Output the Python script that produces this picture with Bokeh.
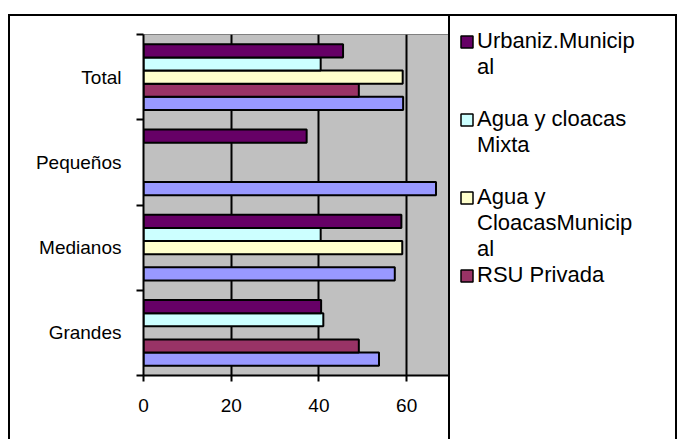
from bokeh.plotting import figure
from bokeh.layouts import row
from bokeh.models import (Range1d, FixedTicker, Legend, LegendItem)
from bokeh.embed import file_html
from bokeh.resources import INLINE

# Categories, bottom to top
categories = ["Grandes", "Medianos", "Pequeños", "Total"]

# Series values per category (None = no bar)
serie_base = [53.7, 57.3, 66.7, 59.2]
rsu_privada = [49.1, None, None, 49.1]
agua_cloacas_municipal = [None, 59.0, None, 59.1]
agua_cloacas_mixta = [41.0, 40.4, None, 40.4]
urbaniz_municipal = [40.5, 58.8, 37.2, 45.5]

x_ticks = [0, 20, 40, 60]

# (legend lines, values, colour); bars stacked bottom to top inside a group
series = [
    ([], serie_base, "#9999FF"),
    (["RSU Privada"], rsu_privada, "#993366"),
    (["Agua y", "CloacasMunicip", "al"], agua_cloacas_municipal, "#FFFFCC"),
    (["Agua y cloacas", "Mixta"], agua_cloacas_mixta, "#CCFFFF"),
    (["Urbaniz.Municip", "al"], urbaniz_municipal, "#660066"),
]

FONT = "Liberation Sans"
BOX_X, BOX_Y, BORDER = 8, 14, 2          # outer chart border
H = 439 - BOX_Y - BORDER
MAIN_W = 450 - BOX_X - BORDER            # chart part ends at the divider
LEG_W = 677 - 450 - BORDER               # legend part (after the divider)

p = figure(width=MAIN_W, height=H, output_backend="svg", toolbar_location=None,
           x_range=Range1d(0, 70), y_range=Range1d(0, len(categories)),
           min_border_left=143 - BOX_X - BORDER, min_border_right=0,
           min_border_top=34 - BOX_Y - BORDER, min_border_bottom=64,
           background_fill_color="#C0C0C0", border_fill_color="white",
           outline_line_color="#808080", outline_line_width=1,
           styles={"border-right": "2px solid black"})

# grouped horizontal bars: five slots per category plus gap
bar_h = 1 / 6.5
for k, (lines, vals, color) in enumerate(series):
    ys, xs = [], []
    for i, v in enumerate(vals):
        if v is None:
            continue
        ys.append(i + 0.5 + (k - 2) * bar_h)
        xs.append(v)
    p.hbar(y=ys, left=0, right=xs, height=bar_h, fill_color=color,
           line_color="black", line_width=2)

# x axis
p.xaxis.ticker = FixedTicker(ticks=x_ticks)
p.xaxis.axis_line_width = 2
p.xaxis.major_tick_line_width = 2
p.xaxis.major_tick_out = 6
p.xaxis.major_tick_in = 0
p.xaxis.minor_tick_line_color = None
p.xaxis.major_label_text_font = FONT
p.xaxis.major_label_text_font_size = "19px"
p.xaxis.major_label_text_color = "black"
p.xaxis.major_label_standoff = 17

# y axis: labels centred on categories, ticks on category boundaries
p.yaxis.ticker = FixedTicker(ticks=[i + 0.5 for i in range(len(categories))],
                             minor_ticks=list(range(len(categories) + 1)))
p.yaxis.major_label_overrides = {i + 0.5: c for i, c in enumerate(categories)}
p.yaxis.axis_line_width = 2
p.yaxis.major_tick_out = 0
p.yaxis.major_tick_in = 0
p.yaxis.minor_tick_out = 7
p.yaxis.minor_tick_in = 0
p.yaxis.minor_tick_line_width = 2
p.yaxis.minor_tick_line_color = "black"
p.yaxis.major_label_text_font = FONT
p.yaxis.major_label_text_font_size = "19px"
p.yaxis.major_label_text_color = "black"
p.yaxis.major_label_standoff = 15

p.xgrid.ticker = FixedTicker(ticks=x_ticks[1:])
p.xgrid.grid_line_color = "black"
p.xgrid.grid_line_width = 2
p.ygrid.visible = False

# legend panel (transparent, nudged up so the first entry sits near the top)
q = figure(width=LEG_W, height=H, output_backend="svg", toolbar_location=None,
           title=None, x_range=Range1d(0, 1), y_range=Range1d(0, 1),
           min_border=0, outline_line_color=None,
           background_fill_alpha=0, border_fill_alpha=0,
           styles={"transform": "translateY(-15px)"})
q.axis.visible = False
q.grid.visible = False

# legend proxies: one undrawn row each so the swatches get their styling
nan = float("nan")
blank = q.hbar(y=[nan], left=[0], right=[0], height=1, fill_alpha=0, line_alpha=0)
items = []
entries = [e for e in reversed(series) if e[0]]
for n, (lines, _, color) in enumerate(entries):
    swatch = q.hbar(y=[nan], left=[0], right=[0], height=1, fill_color=color,
                    line_color="black", line_width=1.5)
    for j, text in enumerate(lines):
        items.append(LegendItem(label=text, renderers=[swatch if j == 0 else blank]))
    if len(lines) < 3 and n < len(entries) - 1:
        items.append(LegendItem(label=" ", renderers=[blank]))

legend = Legend(items=items, location="top_left", margin=9,
                border_line_color=None, background_fill_alpha=0,
                label_text_font=FONT, label_text_font_size="22px",
                label_text_color="black",
                glyph_width=15, glyph_height=15, label_height=26,
                spacing=0, padding=0, label_standoff=3)
q.add_layout(legend)

layout = row(p, q, margin=(BOX_Y, 0, 0, BOX_X),
             styles={"border-top": "2px solid black",
                     "border-left": "2px solid black",
                     "border-right": "2px solid black"})

open("out.html", "w").write(file_html(layout, INLINE))
